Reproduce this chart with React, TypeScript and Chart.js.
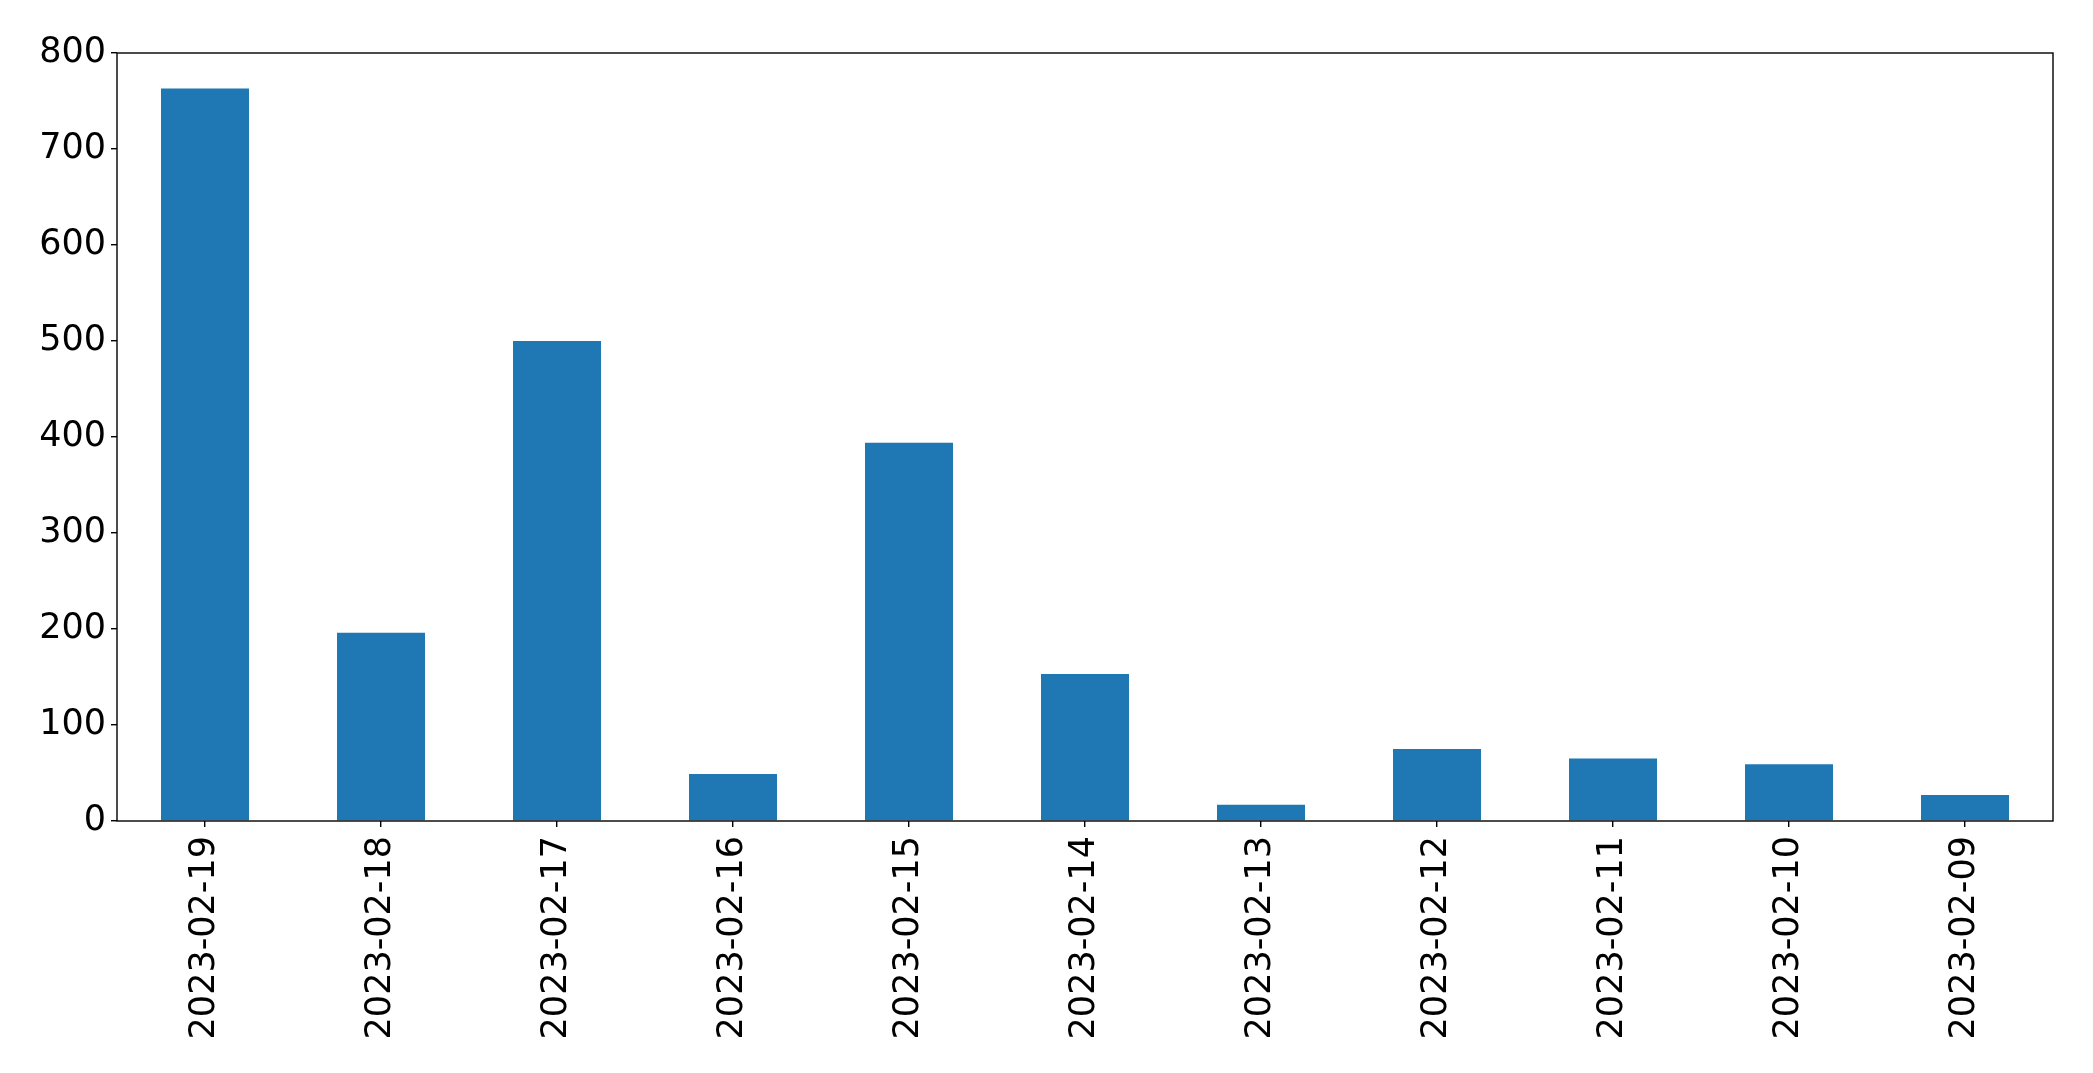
import React, { useEffect, useRef } from "react";
import { Chart, registerables } from "chart.js";

Chart.register(...registerables);

const categories: string[] = [
  "2023-02-19", "2023-02-18", "2023-02-17", "2023-02-16", "2023-02-15", "2023-02-14",
  "2023-02-13", "2023-02-12", "2023-02-11", "2023-02-10", "2023-02-09",
];
const counts: number[] = [763, 196, 500, 49, 394, 153, 17, 75, 65, 59, 27];
const yTicks = { min: 0, max: 800, step: 100 };

const W = 2093;
const H = 1073;
const AREA = { left: 117, top: 53, right: 2053, bottom: 821 };

const frame = {
  id: "frame",
  afterDraw(chart: any) {
    const { ctx, chartArea } = chart;
    ctx.save();
    ctx.strokeStyle = "#000";
    ctx.lineWidth = 1.4;
    ctx.strokeRect(chartArea.left, chartArea.top, chartArea.right - chartArea.left, chartArea.bottom - chartArea.top);
    ctx.restore();
  },
};

export default function App() {
  const ref = useRef<HTMLCanvasElement>(null);
  useEffect(() => {
    if (!ref.current) return;
    const font = { family: "'DejaVu Sans'", size: 35 };
    const chart = new Chart(ref.current, {
      type: "bar",
      data: {
        labels: categories,
        datasets: [
          {
            data: counts,
            backgroundColor: "#1f77b4",
            borderWidth: 0,
            barPercentage: 0.5,
            categoryPercentage: 1,
          },
        ],
      },
      options: {
        animation: false,
        responsive: false,
        devicePixelRatio: 1,
        layout: {
          autoPadding: false,
          padding: { left: 0, top: AREA.top, right: W - AREA.right, bottom: 0 },
        },
        plugins: { legend: { display: false }, tooltip: { enabled: false } },
        scales: {
          x: {
            offset: true,
            grid: { display: true, offset: false, drawOnChartArea: false, drawTicks: true, tickLength: 6, color: "#000", lineWidth: 1.4 },
            border: { display: false },
            ticks: { color: "#000", font, minRotation: 90, maxRotation: 90, padding: 9, autoSkip: false },
            afterFit(scale: any) {
              scale.height = H - AREA.bottom;
            },
          },
          y: {
            min: yTicks.min,
            max: yTicks.max,
            grid: { display: true, drawOnChartArea: false, drawTicks: true, tickLength: 6, color: "#000", lineWidth: 1.4 },
            border: { display: false },
            ticks: { color: "#000", font, stepSize: yTicks.step, padding: 5 },
            afterFit(scale: any) {
              scale.width = AREA.left;
            },
          },
        },
      },
      plugins: [frame],
    });
    return () => chart.destroy();
  }, []);
  return (
    <canvas
      ref={ref}
      width={W}
      height={H}
      style={{ position: "absolute", left: 0, top: 0, width: W, height: H, background: "#fff" }}
    />
  );
}
